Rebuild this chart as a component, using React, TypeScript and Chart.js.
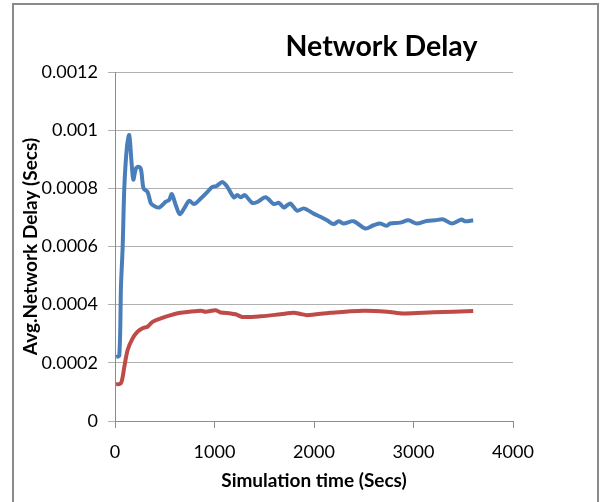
import React, { useEffect, useRef } from "react";
import { Chart, registerables } from "chart.js";

Chart.register(...registerables);

const chartTitle = "Network Delay";
const xAxisTitle = "Simulation time (Secs)";
const yAxisTitle = "Avg.Network Delay (Secs)";

const yTickLabels = ["0", "0.0002", "0.0004", "0.0006", "0.0008", "0.001", "0.0012"];
const xTickLabels = ["0", "1000", "2000", "3000", "4000"];

const blueTime = [10, 43, 60, 77, 94, 120, 143, 167, 184, 210, 234, 261, 287, 327, 361, 394, 444, 511, 544, 571, 611, 651, 695, 745, 795, 862, 929, 979, 1022, 1079, 1129, 1195, 1229, 1263, 1303, 1379, 1430, 1513, 1597, 1647, 1697, 1730, 1764, 1830, 1897, 1997, 2064, 2131, 2198, 2248, 2298, 2398, 2515, 2598, 2665, 2732, 2765, 2866, 2949, 3033, 3133, 3216, 3300, 3383, 3483, 3517, 3600];
const blueDelay = [0.00022, 0.000225, 0.000462, 0.000599, 0.000805, 0.000943, 0.000983, 0.000886, 0.00083, 0.000868, 0.000874, 0.000865, 0.0008, 0.000788, 0.000748, 0.000739, 0.000734, 0.000754, 0.00076, 0.00078, 0.000742, 0.000711, 0.000731, 0.000757, 0.000746, 0.000765, 0.000788, 0.000805, 0.000808, 0.000822, 0.000805, 0.000769, 0.000777, 0.000769, 0.000777, 0.00075, 0.000753, 0.000769, 0.000746, 0.00075, 0.000734, 0.000742, 0.000748, 0.000723, 0.000731, 0.000713, 0.000702, 0.00069, 0.000677, 0.000687, 0.000679, 0.000687, 0.000662, 0.000673, 0.000679, 0.000671, 0.000679, 0.000682, 0.00069, 0.000679, 0.000688, 0.00069, 0.000693, 0.000679, 0.000693, 0.000687, 0.00069];

const redTime = [10, 60, 94, 127, 177, 227, 277, 327, 377, 461, 561, 661, 862, 912, 1012, 1062, 1162, 1212, 1280, 1463, 1663, 1797, 1864, 1931, 2164, 2498, 2732, 2899, 3200, 3600];
const redDelay = [0.000126, 0.00013, 0.000187, 0.000244, 0.000284, 0.000307, 0.000319, 0.000324, 0.000341, 0.000353, 0.000364, 0.000372, 0.000379, 0.000376, 0.000381, 0.000373, 0.00037, 0.000367, 0.000358, 0.00036, 0.000367, 0.000372, 0.000368, 0.000364, 0.000372, 0.000379, 0.000376, 0.00037, 0.000374, 0.000378];

const FONT = "Lato, 'Open Sans', sans-serif";

export default function App() {
  const ref = useRef<HTMLCanvasElement | null>(null);

  useEffect(() => {
    document.body.style.margin = "0";
    const canvas = ref.current;
    if (!canvas) return;

    const framePlugin = {
      id: "frameAndTitle",
      beforeDraw(chart: any) {
        const ctx = chart.ctx;
        ctx.save();
        ctx.fillStyle = "#ffffff";
        ctx.fillRect(0, 0, chart.width, chart.height);
        ctx.strokeStyle = "#8a8a8a";
        ctx.lineWidth = 2;
        ctx.strokeRect(13, 4, 585, 520);
        ctx.restore();
      },
      afterDraw(chart: any) {
        const ctx = chart.ctx;
        ctx.save();
        ctx.fillStyle = "#000000";
        ctx.font = `bold 28.5px ${FONT}`;
        ctx.textAlign = "center";
        ctx.textBaseline = "alphabetic";
        ctx.fillText(chartTitle, 381.5, 56);
        ctx.restore();
      },
    };

    const chart = new Chart(canvas, {
      type: "line",
      data: {
        datasets: [
          {
            label: "Blue",
            data: blueTime.map((t, i) => ({ x: t, y: blueDelay[i] })),
            borderColor: "#4a7ebb",
            borderWidth: 4,
            pointRadius: 0,
            tension: 0.3,
            fill: false,
          },
          {
            label: "Red",
            data: redTime.map((t, i) => ({ x: t, y: redDelay[i] })),
            borderColor: "#be4b48",
            borderWidth: 4,
            pointRadius: 0,
            tension: 0.3,
            fill: false,
          },
        ],
      },
      options: {
        animation: false,
        responsive: false,
        maintainAspectRatio: false,
        layout: { padding: { top: 72, right: 87, left: 0, bottom: 0 } },
        plugins: {
          legend: { display: false },
          tooltip: { enabled: false },
          title: { display: false },
        },
        scales: {
          x: {
            type: "linear",
            min: 0,
            max: 4000,
            afterFit: (s: any) => {
              s.height = 81;
            },
            ticks: {
              stepSize: 1000,
              padding: 13,
              color: "#000000",
              font: { family: FONT, size: 18 },
              callback: (_v: any, i: number) => xTickLabels[i],
            },
            grid: {
              drawOnChartArea: false,
              drawTicks: true,
              tickLength: 7,
              color: "#8c8c8c",
            },
            border: { display: true, color: "#8c8c8c", width: 1 },
            title: {
              display: true,
              text: xAxisTitle,
              color: "#000000",
              font: { family: FONT, size: 19, weight: "bold" },
              padding: { top: 0, bottom: 10 },
            },
          },
          y: {
            type: "linear",
            min: 0,
            max: 0.0012,
            afterFit: (s: any) => {
              s.width = 115;
            },
            ticks: {
              stepSize: 0.0002,
              padding: 10,
              color: "#000000",
              font: { family: FONT, size: 18 },
              callback: (_v: any, i: number) => yTickLabels[i],
            },
            grid: {
              drawOnChartArea: true,
              drawTicks: true,
              tickLength: 7,
              color: "#b0b0b0",
            },
            border: { display: true, color: "#8c8c8c", width: 1 },
            title: {
              display: true,
              text: yAxisTitle,
              color: "#000000",
              font: { family: FONT, size: 19, weight: "bold" },
              padding: { top: 19, bottom: 0 },
            },
          },
        },
      },
      plugins: [framePlugin],
    });

    return () => chart.destroy();
  }, []);

  return (
    <div style={{ width: 600, height: 502 }}>
      <canvas ref={ref} width={600} height={502} style={{ display: "block", width: 600, height: 502 }} />
    </div>
  );
}
